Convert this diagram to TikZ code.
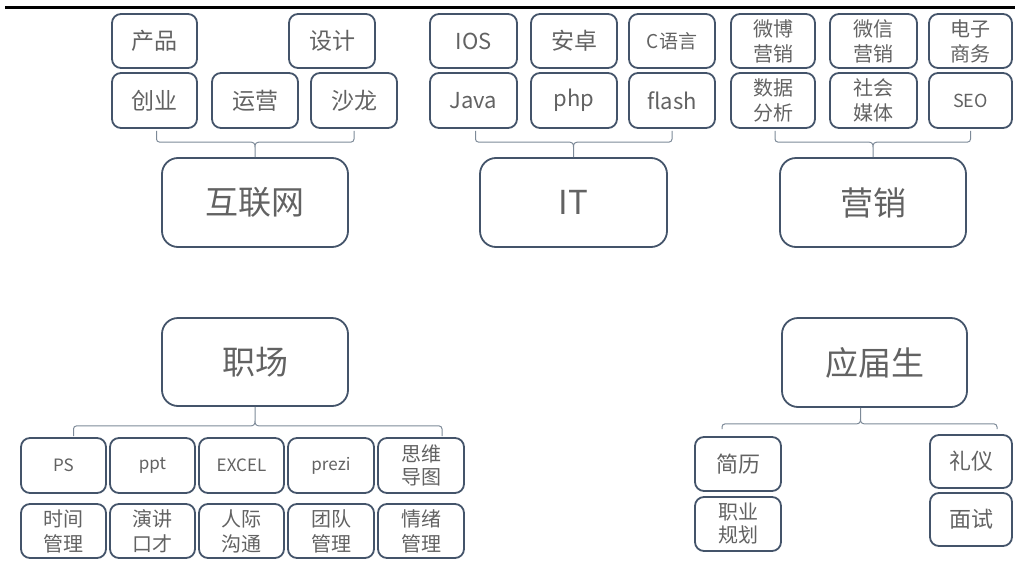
\documentclass[tikz,border=0pt]{standalone}
\usepackage{fontspec}
\setmainfont{Noto Sans CJK SC}
\usetikzlibrary{calc}
\definecolor{boxc}{RGB}{68,84,106}
\definecolor{txtc}{RGB}{98,98,98}
\definecolor{barc}{RGB}{125,138,152}
\tikzset{
  box/.style={draw=boxc, line width=1.8pt, rounded corners=9pt, text=txtc,
    inner sep=0pt, align=center, font=\fontsize{23}{27}\selectfont},
  bigbox/.style={box, rounded corners=16pt, font=\fontsize{33}{38}\selectfont},
  two/.style={font=\fontsize{20}{25}\selectfont},
  twotight/.style={font=\fontsize{20}{23}\selectfont},
  lat/.style={font=\fontsize{22}{26}\selectfont},
  latsm/.style={font=\fontsize{17}{20}\selectfont},
  brace/.style={draw=barc, line width=1pt},
}
% box from its corners (x1,y1)-(x2,y2), y measured downwards
\newcommand\boxat[7][]{%
  \node[box,#1,minimum width={(#5-#3)*1pt},minimum height={(#6-#4)*1pt}]
    (#2) at ({(#3+#5)/2},{(#4+#6)/2}) {#7};}
% bar under a row of boxes: ends #1,#2, bar level and tip at #3, tip runs to #4
\newcommand\barbelow[4]{%
  \draw[brace] let \p1=(#1), \p2=(#2), \p3=(#3), \p4=(#4) in
    (\x1,\y1) -- (\x1,\y3+3pt) .. controls (\x1,\y3+1.3pt) and (\x1+1.3pt,\y3) .. (\x1+3pt,\y3)
    -- (\x3-5pt,\y3) .. controls (\x3-1.5pt,\y3) and (\x3,\y3-1pt) .. (\x3,\y3-5pt) -- (\x3,\y4)
    (\x2,\y2) -- (\x2,\y3+3pt) .. controls (\x2,\y3+1.3pt) and (\x2-1.3pt,\y3) .. (\x2-3pt,\y3)
    -- (\x3+5pt,\y3) .. controls (\x3+1.5pt,\y3) and (\x3,\y3-1pt) .. (\x3,\y3-5pt);}
% bar over a row of boxes: ends #1,#2, bar level and tip at #3, tip runs up to #4
\newcommand\barabove[4]{%
  \draw[brace] let \p1=(#1), \p2=(#2), \p3=(#3), \p4=(#4) in
    (\x1,\y1) -- (\x1,\y3-3pt) .. controls (\x1,\y3-1.3pt) and (\x1+1.3pt,\y3) .. (\x1+3pt,\y3)
    -- (\x3-5pt,\y3) .. controls (\x3-1.5pt,\y3) and (\x3,\y3+1pt) .. (\x3,\y3+5pt) -- (\x3,\y4)
    (\x2,\y2) -- (\x2,\y3-3pt) .. controls (\x2,\y3-1.3pt) and (\x2-1.3pt,\y3) .. (\x2-3pt,\y3)
    -- (\x3+5pt,\y3) .. controls (\x3+1.5pt,\y3) and (\x3,\y3+1pt) .. (\x3,\y3+5pt);}

\begin{document}
\begin{tikzpicture}[x=1pt,y=-1pt]
\useasboundingbox (0,0) rectangle (1015,565);
\draw[line width=3pt] (5,7) -- (1015,7);

% 互联网
\boxat{chanpin}{112}{14}{197}{68}{产品}
\boxat{sheji}{289}{14}{375}{68}{设计}
\boxat{chuangye}{112}{73}{197}{128}{创业}
\boxat{yunying}{212}{73}{298}{128}{运营}
\boxat{shalong}{311}{73}{397}{128}{沙龙}
\boxat[bigbox]{hlw}{162}{158}{348}{247}{互联网}
\barbelow{$(chuangye.south)+(2,2)$}{$(shalong.south)+(0,2)$}{$(hlw.north)+(0,-15)$}{hlw.north}

% IT
\boxat[lat]{ios}{430}{14}{517}{68}{IOS}
\boxat{anzhuo}{531}{14}{617}{68}{安卓}
\boxat[font=\fontsize{19}{23}\selectfont]{cyy}{629}{14}{715}{68}{C语言}
\boxat[lat]{java}{430}{73}{517}{128}{Java}
\boxat[lat]{php}{531}{73}{617}{128}{php}
\boxat[lat]{flash}{629}{73}{715}{128}{flash}
\boxat[bigbox]{it}{480}{158}{667}{247}{IT}
\barbelow{$(java.south)+(2,2)$}{$(flash.south)+(0,2)$}{$(it.north)+(0,-15)$}{it.north}

% 营销
\boxat[two]{weibo}{731}{14}{815}{68}{微博\\营销}
\boxat[two]{weixin}{830}{14}{917}{68}{微信\\营销}
\boxat[two]{dianzi}{929}{14}{1012}{68}{电子\\商务}
\boxat[two]{shuju}{731}{73}{815}{128}{数据\\分析}
\boxat[two]{shehui}{830}{73}{917}{128}{社会\\媒体}
\boxat[font=\fontsize{18}{22}\selectfont]{seo}{929}{73}{1012}{128}{SEO}
\boxat[bigbox]{yx}{780}{158}{966}{247}{营销}
\barbelow{$(shuju.south)+(2,2)$}{$(seo.south)+(0,2)$}{$(yx.north)+(0,-15)$}{yx.north}

% 职场
\boxat[bigbox]{zc}{162}{318}{348}{406}{职场}
\boxat[latsm]{ps}{21}{438}{106}{493}{PS}
\boxat[latsm]{ppt}{110}{438}{195}{493}{ppt}
\boxat[latsm]{excel}{199}{438}{284}{493}{EXCEL}
\boxat[latsm]{prezi}{288}{438}{374}{493}{prezi}
\boxat[twotight]{siwei}{378}{438}{464}{493}{思维\\导图}
\boxat[two]{shijian}{21}{504}{106}{558}{时间\\管理}
\boxat[two]{yanjiang}{110}{504}{195}{558}{演讲\\口才}
\boxat[two]{renji}{199}{504}{284}{558}{人际\\沟通}
\boxat[two]{tuandui}{288}{504}{374}{558}{团队\\管理}
\boxat[two]{qingxu}{378}{504}{464}{558}{情绪\\管理}
\barabove{$(ps.north)+(10,-1)$}{$(siwei.north)+(21,-1)$}{$(zc.south)+(0,19)$}{zc.south}

% 应届生
\boxat[bigbox]{yjs}{782}{318}{967}{407}{应届生}
\boxat[font=\fontsize{22}{26}\selectfont]{jianli}{695}{437}{781}{491}{简历}
\boxat[twotight]{zhiye}{695}{497}{781}{551}{职业\\规划}
\boxat[font=\fontsize{22}{26}\selectfont]{liyi}{930}{435}{1012}{488}{礼仪}
\boxat[font=\fontsize{22}{26}\selectfont]{mianshi}{930}{493}{1012}{546}{面试}
\barabove{$(jianli.north)+(-16,-7)$}{$(liyi.north)+(26,-5)$}{$(yjs.south)+(-14,16)$}{yjs.south}
\end{tikzpicture}
\end{document}
